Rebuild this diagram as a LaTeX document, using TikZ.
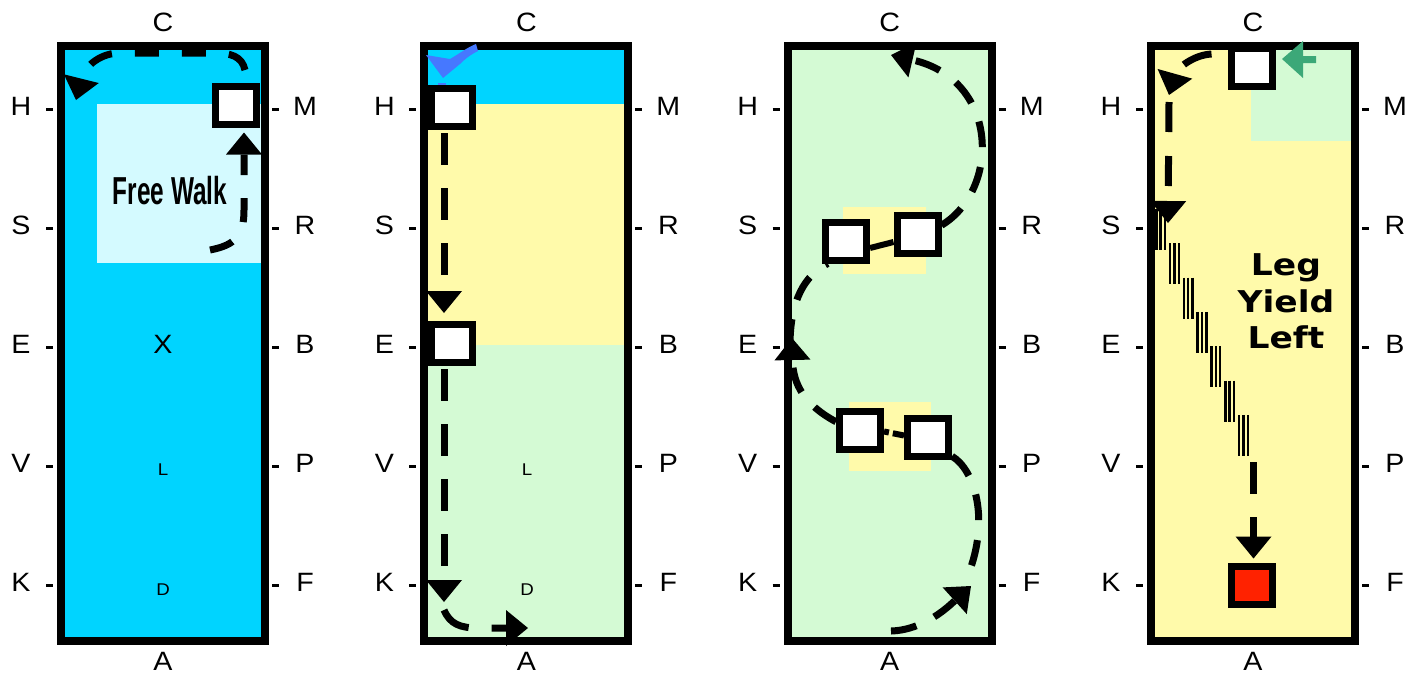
\documentclass[tikz,border=0pt]{standalone}
\usepackage{fontspec}
\setmainfont{Liberation Sans}
\newfontfamily\djv{DejaVu Sans}
\usetikzlibrary{arrows.meta,calc}
\definecolor{cyanA}{RGB}{0,212,255}
\definecolor{lcyan}{RGB}{212,250,255}
\definecolor{ylw}{RGB}{255,250,170}
\definecolor{grn}{RGB}{212,250,212}
\definecolor{chk}{RGB}{70,120,255}
\definecolor{garrow}{RGB}{60,168,120}
\definecolor{redsq}{RGB}{255,34,0}
\begin{document}
\begin{tikzpicture}[x=1pt,y=-1pt,
  lbl/.style={font=\fontsize{26.5}{28}\selectfont, inner sep=0pt},
  smalllbl/.style={font=\fontsize{17}{18}\selectfont, inner sep=0pt},
  lyl/.style={font=\djv\bfseries\fontsize{30}{31}\selectfont, inner sep=0pt, anchor=base},
  frame/.style={line width=8pt},
  tickmark/.style={line width=2.6pt},
  sq/.style={draw, line width=7pt, fill=white, minimum width=41pt, minimum height=38pt, inner sep=0pt},
  trk/.style={line width=7pt, -{Triangle[length=22pt,width=36pt,line width=0pt]}},
  trkn/.style={line width=7pt},
  trk1/.style={trk, dash pattern=on 24pt off 23pt},
  trk2/.style={trk, dash pattern=on 32pt off 23pt},
  trk3/.style={trk, dash pattern=on 26pt off 20pt},
  trk3n/.style={trkn, dash pattern=on 26pt off 20pt},
  trk4/.style={trk, dash pattern=on 30pt off 24pt},
  legline/.style={line width=2.5pt}
]
\useasboundingbox (0,0) rectangle (1418,673);

% ---------- backgrounds ----------
\fill[cyanA] (61,46) rectangle (265,640.5);
\fill[lcyan] (97,104) rectangle (261,263);
\fill[cyanA] (424,46) rectangle (629,104);
\fill[ylw] (424,104) rectangle (629,345);
\fill[grn] (424,345) rectangle (629,640.5);
\fill[grn] (788,46) rectangle (992,640.5);
\fill[ylw] (843,207) rectangle (926,274);
\fill[ylw] (849,402) rectangle (931,471);
\fill[ylw] (1151,46) rectangle (1355,640.5);
\fill[grn] (1251,46) rectangle (1355,141);

% ---------- frames and letters ----------
\foreach \i in {0,1,2,3} {
  \pgfmathsetmacro{\ox}{363.33*\i}
  \draw[frame] (61+\ox,46) rectangle (265+\ox,640.5);
  \node[lbl] (C\i) at (163+\ox,22) {\scalebox{1.08}[1]{C}};
  \node[lbl] (A\i) at (163+\ox,661) {\scalebox{1.08}[1]{A}};
  \foreach \L/\R/\yy in {H/M/106,S/R/225,E/B/344,V/P/463,K/F/582} {
    \node[lbl] (\L\i) at (21+\ox,\yy) {\scalebox{1.08}[1]{\L}};
    \node[lbl] (\R\i) at (305+\ox,\yy) {\scalebox{1.08}[1]{\R}};
    \draw[tickmark] (\L\i) ++(25,3.5) -- ++(7,0);
    \draw[tickmark] (\R\i) ++(-33,3.5) -- ++(7,0);
  }
}

% ---------- arena 1 ----------
\node[lbl] (X1) at (163,344) {\scalebox{1.08}[1]{X}};
\node[smalllbl] (L1) at (163,470) {\scalebox{1.1}[1]{L}};
\node[smalllbl] (D1) at (163,590) {\scalebox{1.1}[1]{D}};
\node[inner sep=0pt, font=\bfseries\fontsize{39}{40}\selectfont] (fw) at (170,191) {\scalebox{0.625}[1]{Free Walk}};
\node[sq] (s11) at (235.5,105) {};
\coordinate (p11) at (210,250);
\coordinate (p12) at (76,100);
\draw[trk1] (p11) .. controls (236,245) and (244,235) .. (244,210) -- ($(s11.south)+(8.5,5)$);
\draw[trk1] ($(s11.north)+(9.5,-12.5)$) .. controls (242,56) and (230,53) .. (215,53) -- (118,53) .. controls (98,54) and (84,68) .. (p12);

% ---------- arena 2 ----------
\node[smalllbl] (L2) at (527,470) {\scalebox{1.1}[1]{L}};
\node[smalllbl] (D2) at (527,590) {\scalebox{1.1}[1]{D}};
\fill[chk] (426,55) -- (450,59) .. controls (462,52) and (468,47) .. (476,44) -- (478,51) .. controls (470,55) and (465,59) .. (460,64) -- (443,78) -- cycle;
\fill[chk] (438,83) rectangle (446,87);
\node[sq] (s21) at (451.5,107.5) {};
\node[sq] (s22) at (451.5,343.5) {};
\coordinate (k2) at (444,602);
\coordinate (a2) at (528,628);
\draw[trk2] ($(s21.south)+(-7.5,3)$) -- ($(s22.north)+(-7.5,-8)$);
\draw[trk2] ($(s22.south)+(-7.5,3)$) -- (k2);
\draw[trk2] ($(k2)+(0,8)$) .. controls (450,624) and (460,628) .. (478,628) -- (a2);

% ---------- arena 3 ----------
\node[sq] (s31) at (846,241) {};
\node[sq] (s32) at (917.5,234) {};
\node[sq] (s33) at (860,430.5) {};
\node[sq] (s34) at (928,437.5) {};
\draw[line width=6pt] ([yshift=-7pt]s31.east) -- ([yshift=-8pt]s32.west);
\draw[line width=6pt, dash pattern=on 5pt off 4pt on 40pt off 1pt] ([yshift=-1pt]s33.east) -- ([yshift=2pt]s34.west);
\coordinate (p31) at (891,631);
\coordinate (p32) at (971,586);
\coordinate (p33) at (968,575);
\coordinate (e3) at (792,338);
\coordinate (e3b) at (790,345);
\coordinate (c3) at (891,55);
\draw[trk3] (p31) .. controls (925,630) and (950,605) .. (p32);
\draw[trk3n] (s34.-38) .. controls (975,470) and (990,520) .. (p33);
\draw[trk3] (s33.160) .. controls (805,405) and (793,385) .. (e3);
\draw[trk3n] (e3b) .. controls (790,300) and (805,275) .. (s31.-129);
\draw[trk3] (s32.20) .. controls (1000,190) and (1000,80) .. (c3);

% ---------- arena 4 ----------
\node[sq] (s41) at (1252,67.5) {};
\fill[garrow] (1282,59) -- (1303,41) -- (1303,56) -- (1316,56) -- (1316,63) -- (1303,63) -- (1303,78) -- cycle;
\coordinate (p41) at (1169,95);
\coordinate (p42) at (1168,223);
\draw[trk4] ($(s41.west)+(-16.5,-13.5)$) .. controls (1192,55) and (1176,70) .. (p41);
\draw[trk4] ($(p41)+(0,7)$) -- (p42);
\foreach \k in {0,...,6} {
  \pgfmathsetmacro{\gx}{1155+13.8*\k}
  \pgfmathsetmacro{\gy}{209+34.3*\k}
  \draw[legline] (\gx+1.25,\gy) -- ++(0,41);
  \draw[legline] (\gx+5.6,\gy) -- ++(0,41);
  \draw[legline] (\gx+9.95,\gy) -- ++(0,41);
}
\node[sq, fill=redsq] (r4) at (1252,585) {};
\coordinate (p43) at (1253.5,462);
\draw[trk4, dash pattern=on 32pt off 23pt] (p43) -- ($(r4.north)+(1.5,-4)$);
\node[lyl] (leg) at (1286,275) {\scalebox{1.15}[1]{Leg}};
\node[lyl] (yield) at (1286,312) {\scalebox{1.15}[1]{Yield}};
\node[lyl] (left) at (1286,348) {\scalebox{1.15}[1]{Left}};
\end{tikzpicture}
\end{document}
